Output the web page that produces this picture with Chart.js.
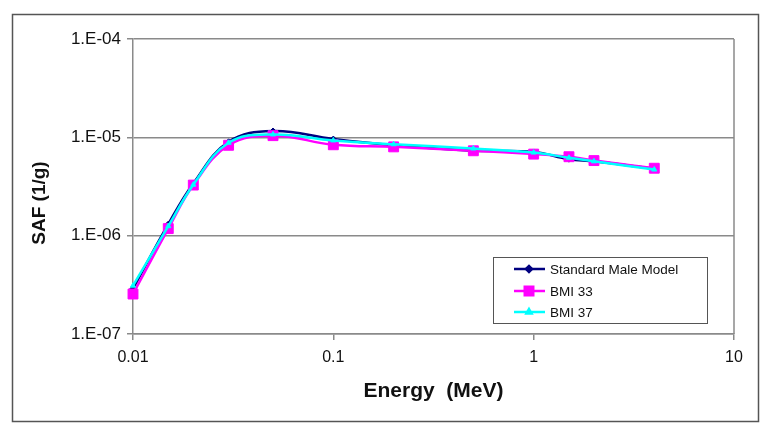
<!DOCTYPE html>
<html>
<head>
<meta charset="utf-8">
<script src="https://cdn.jsdelivr.net/npm/chart.js@4.4.1/dist/chart.umd.min.js"></script>
<style>
  html, body { margin: 0; padding: 0; background: #fff; }
  #wrap { width: 770px; height: 433px; position: relative; }
</style>
</head>
<body>
<div id="wrap"><canvas id="chart"></canvas></div>
<script>
"use strict";
// energies (MeV) and SAF values (1/g)
const energies = [0.01, 0.015, 0.02, 0.03, 0.05, 0.1, 0.2, 0.5, 1, 1.5, 2, 4];
const standardMale = [2.9e-7, 1.31e-6, 3.4e-6, 9.0e-6, 1.16e-5, 9.6e-6, 8.3e-6, 7.3e-6, 7.1e-6, 6.0e-6, 5.7e-6, 4.8e-6];
const bmi33 = [2.55e-7, 1.18e-6, 3.27e-6, 8.3e-6, 1.04e-5, 8.4e-6, 8.0e-6, 7.3e-6, 6.75e-6, 6.35e-6, 5.8e-6, 4.85e-6];
const bmi37 = [3.1e-7, 1.25e-6, 3.3e-6, 8.8e-6, 1.07e-5, 9.3e-6, 8.5e-6, 7.7e-6, 7.0e-6, 6.2e-6, 5.7e-6, 4.7e-6];
const seriesNames = ["Standard Male Model", "BMI 33", "BMI 37"];
const xTicks = [0.01, 0.1, 1, 10];
const yTicks = [1e-7, 1e-6, 1e-5, 1e-4];
const yTitle = "SAF (1/g)";

const toPoints = (vals) => energies.map((e, i) => ({ x: e, y: vals[i] }));

const sciLabel = (v) => {
    const e = Math.round(Math.log10(v));
    return "1.E" + (e < 0 ? "-" : "+") + String(Math.abs(e)).padStart(2, "0");
};

const frame = {
    id: "frame",
    beforeDraw(chart) {
        const ctx = chart.ctx;
        ctx.save();
        ctx.fillStyle = "#fff";
        ctx.fillRect(0, 0, chart.width, chart.height);
        ctx.strokeStyle = "#555";
        ctx.lineWidth = 1.5;
        ctx.strokeRect(12.5, 14.5, 746, 407);
        // y axis title, sits a bit below the middle like the original
        ctx.translate(40, 203);
        ctx.rotate(-Math.PI / 2);
        ctx.fillStyle = "#111";
        ctx.font = "bold 19px 'Liberation Sans', Arial, sans-serif";
        ctx.textAlign = "center";
        ctx.textBaseline = "middle";
        ctx.fillText(yTitle, 0, 0);
        ctx.restore();
    },
    beforeDatasetsDraw(chart) {
        const a = chart.chartArea;
        const ctx = chart.ctx;
        ctx.save();
        ctx.strokeStyle = "#8a8a8a";
        ctx.lineWidth = 1.5;
        ctx.beginPath();
        ctx.moveTo(a.right, a.top);
        ctx.lineTo(a.right, a.bottom);
        ctx.stroke();
        ctx.restore();
    },
    afterDraw(chart) {
        const ctx = chart.ctx;
        const x0 = 493, y0 = 257, w = 214, h = 66;
        ctx.save();
        ctx.fillStyle = "#fff";
        ctx.fillRect(x0, y0, w, h);
        ctx.strokeStyle = "#555";
        ctx.lineWidth = 1;
        ctx.strokeRect(x0 + 0.5, y0 + 0.5, w, h);
        const rows = [269, 291, 312];
        chart.data.datasets.forEach((ds, i) => {
            const y = rows[i];
            ctx.strokeStyle = ds.borderColor;
            ctx.lineWidth = 2.5;
            ctx.beginPath();
            ctx.moveTo(514, y);
            ctx.lineTo(545, y);
            ctx.stroke();
            ctx.fillStyle = ds.borderColor;
            Chart.helpers.drawPoint(ctx, {
                pointStyle: ds.pointStyle,
                radius: ds.legendRadius,
                borderWidth: 1
            }, 529, y);
            ctx.fillStyle = "#111";
            ctx.font = "13.5px 'Liberation Sans', Arial, sans-serif";
            ctx.textBaseline = "middle";
            ctx.fillText(ds.label, 550, y + 1);
        });
        ctx.restore();
    }
};

const datasets = [
    { label: seriesNames[0], data: toPoints(standardMale), borderColor: "#000080",
      pointStyle: "rectRot", pointRadius: 3, legendRadius: 3, order: 2 },
    { label: seriesNames[1], data: toPoints(bmi33), borderColor: "#ff00ff",
      pointStyle: "rect", pointRadius: 7, legendRadius: 6, order: 1 },
    { label: seriesNames[2], data: toPoints(bmi37), borderColor: "#00ffff",
      pointStyle: "triangle", pointRadius: 3, legendRadius: 3, order: 0 }
];
datasets.forEach(ds => {
    ds.backgroundColor = ds.borderColor;
    ds.borderWidth = 2.5;
    ds.tension = 0.4;
    ds.fill = false;
    ds.clip = false;
    ds.pointBorderWidth = 1;
    ds.pointBorderColor = ds.borderColor;
    ds.pointBackgroundColor = ds.borderColor;
});

new Chart(document.getElementById("chart"), {
    type: "line",
    data: { datasets },
    options: {
        responsive: true,
        maintainAspectRatio: false,
        animation: false,
        layout: { padding: { left: 0, right: 36, top: 39, bottom: 0 } },
        plugins: { legend: { display: false }, tooltip: { enabled: false } },
        scales: {
            x: {
                type: "logarithmic",
                min: 0.01,
                max: 10,
                afterBuildTicks: s => { s.ticks = xTicks.map(v => ({ value: v })); },
                afterFit: s => { s.height = 99; },
                grid: { drawOnChartArea: false, tickLength: 6, color: "#8a8a8a", lineWidth: 1.5 },
                border: { color: "#8a8a8a", width: 1.5 },
                ticks: {
                    autoSkip: false, maxRotation: 0, padding: 8, color: "#111",
                    font: { family: "'Liberation Sans', Arial, sans-serif", size: 16 },
                    callback: v => String(v)
                },
                title: {
                    display: true, text: "Energy  (MeV)", color: "#111",
                    font: { family: "'Liberation Sans', Arial, sans-serif", size: 21, weight: "bold" },
                    padding: { top: 0, bottom: 29 }
                }
            },
            y: {
                type: "logarithmic",
                min: 1e-7,
                max: 1e-4,
                afterBuildTicks: s => { s.ticks = yTicks.map(v => ({ value: v })); },
                afterFit: s => { s.width = 133; },
                grid: { tickLength: 6, color: "#8a8a8a", lineWidth: 1.5 },
                border: { color: "#8a8a8a", width: 1.5 },
                ticks: {
                    autoSkip: false, padding: 6, color: "#111",
                    font: { family: "'Liberation Sans', Arial, sans-serif", size: 17 },
                    callback: v => sciLabel(v)
                },
                title: { display: false }
            }
        }
    },
    plugins: [frame]
});
</script>
</body>
</html>
